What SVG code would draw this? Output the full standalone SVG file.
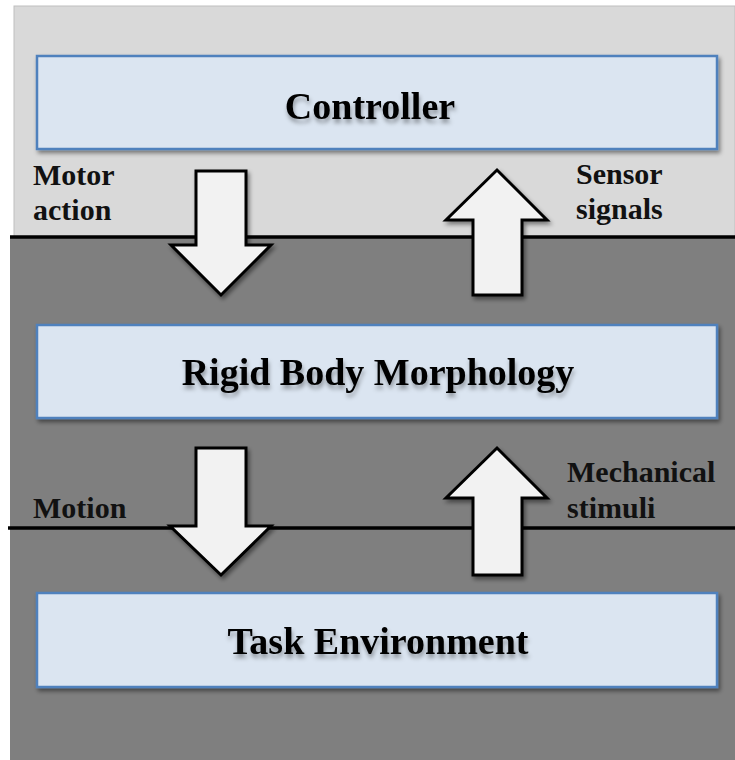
<svg xmlns="http://www.w3.org/2000/svg" width="735" height="760" viewBox="0 0 735 760">
  <defs>
    <filter id="sh" x="-10%" y="-10%" width="130%" height="140%">
      <feDropShadow dx="2" dy="3" stdDeviation="2" flood-color="#000" flood-opacity="0.45"/>
    </filter>
    <filter id="tsh" x="-10%" y="-30%" width="120%" height="170%">
      <feDropShadow dx="1" dy="4" stdDeviation="2" flood-color="#000" flood-opacity="0.35"/>
    </filter>
    <style>
      .box { fill: #dbe5f1; stroke: #4f81bd; stroke-width: 2.5; filter: url(#sh); }
      .title { font-family: "Liberation Serif", "Times New Roman", serif; font-weight: bold; font-size: 38px; fill: #000; text-anchor: middle; filter: url(#tsh); }
      .lbl { font-family: "Liberation Serif", "Times New Roman", serif; font-weight: bold; font-size: 30px; fill: #111; }
      .arrow { fill: #f2f2f2; stroke: #000; stroke-width: 3; stroke-linejoin: miter; filter: url(#sh); }
      .sep { stroke: #000; stroke-width: 3.5; }
    </style>
  </defs>
  <rect x="0" y="0" width="735" height="760" fill="#ffffff"/>
  <g id="background">
    <rect x="14" y="6" width="721" height="231" fill="#d9d9d9" stroke="#bfbfbf" stroke-width="1"/>
    <rect x="10" y="237" width="725" height="523" fill="#7f7f7f"/>
    <line class="sep" x1="10" y1="237" x2="735" y2="237"/>
    <line class="sep" x1="8" y1="528" x2="735" y2="528"/>
  </g>
  <g id="controller">
    <rect class="box" x="37" y="56" width="680" height="93"/>
    <text class="title" x="370" y="119">Controller</text>
  </g>
  <g id="rigid-body-morphology">
    <rect class="box" x="37" y="325" width="680" height="93"/>
    <text class="title" x="378" y="385">Rigid Body Morphology</text>
  </g>
  <g id="task-environment">
    <rect class="box" x="37" y="593" width="680" height="94"/>
    <text class="title" x="378" y="654">Task Environment</text>
  </g>
  <g id="connectors">
    <polygon class="arrow" points="196,171 246,171 246,245 271,245 221,295 171,245 196,245"/>
    <polygon class="arrow" points="473,295 522,295 522,220 547,220 497,170 446,220 473,220"/>
    <polygon class="arrow" points="196,448 246,448 246,526 271,526 221,575 170,526 196,526"/>
    <polygon class="arrow" points="473,575 522,575 522,498 547,498 497,448 446,498 473,498"/>
  </g>
  <g id="labels">
    <text class="lbl" x="33" y="185">Motor</text>
    <text class="lbl" x="33" y="220">action</text>
    <text class="lbl" x="576" y="184">Sensor</text>
    <text class="lbl" x="576" y="219">signals</text>
    <text class="lbl" x="33" y="518">Motion</text>
    <text class="lbl" x="567" y="482">Mechanical</text>
    <text class="lbl" x="567" y="518">stimuli</text>
  </g>
</svg>
